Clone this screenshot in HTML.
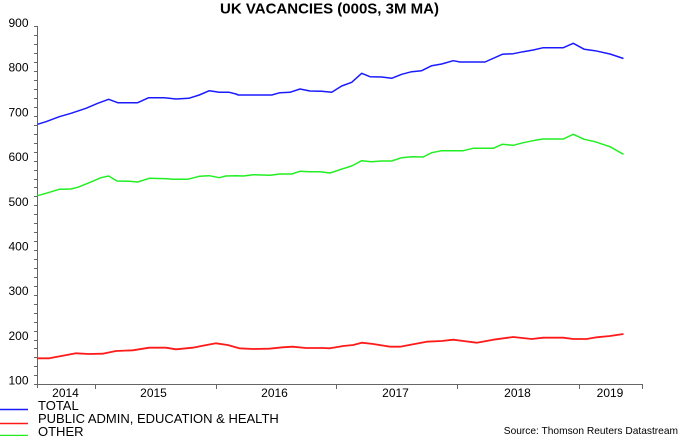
<!DOCTYPE html>
<html>
<head>
<meta charset="utf-8">
<style>
  html, body { margin: 0; padding: 0; background: #fff; }
  body { width: 680px; height: 436px; overflow: hidden; }
  svg { display: block; }
  text { font-family: "Liberation Sans", Arial, sans-serif; fill: #000; }
</style>
</head>
<body>
<svg width="680" height="436" viewBox="0 0 680 436" xmlns="http://www.w3.org/2000/svg">
  <rect width="680" height="436" fill="#fff"/>
  <!-- Title -->
  <text x="329.5" y="13.5" font-size="15" font-weight="bold" text-anchor="middle">UK VACANCIES (000S, 3M MA)</text>

  <!-- Y axis -->
  <g stroke="#666" stroke-width="1" fill="none" shape-rendering="crispEdges">
    <line x1="37.5" y1="26" x2="37.5" y2="388"/>
    <line x1="37" y1="384.5" x2="643" y2="384.5"/>
    <!-- minor ticks every 20 units: 8.95px -->
    <path d="M34 26.5H38 M34 35.5H38 M34 44.5H38 M34 53.5H38 M34 62.5H38 M34 71.5H38 M34 80.5H38 M34 89.5H38 M34 98.5H38 M34 107.5H38 M34 116.5H38 M34 125.5H38 M34 134.5H38 M34 143.5H38 M34 152.5H38 M34 161.5H38 M34 170.5H38 M34 179.5H38 M34 187.5H38 M34 196.5H38 M34 205.5H38 M34 214.5H38 M34 223.5H38 M34 232.5H38 M34 241.5H38 M34 250.5H38 M34 259.5H38 M34 268.5H38 M34 277.5H38 M34 286.5H38 M34 295.5H38 M34 304.5H38 M34 313.5H38 M34 322.5H38 M34 331.5H38 M34 340.5H38 M34 348.5H38 M34 357.5H38 M34 366.5H38 M34 375.5H38 M34 384.5H38"/>
    <!-- x ticks -->
    <path d="M95.5 384V389 M216.5 384V389 M336.5 384V389 M457.5 384V389 M579.5 384V389 M642.5 384V389"/>
  </g>

  <!-- Y labels -->
  <g font-size="12" text-anchor="end">
    <text x="28.5" y="27">900</text>
    <text x="28.5" y="71.5">800</text>
    <text x="28.5" y="116.5">700</text>
    <text x="28.5" y="161">600</text>
    <text x="28.5" y="206">500</text>
    <text x="28.5" y="250.5">400</text>
    <text x="28.5" y="295">300</text>
    <text x="28.5" y="340">200</text>
    <text x="28.5" y="384.5">100</text>
  </g>

  <!-- X labels -->
  <g font-size="12" text-anchor="middle">
    <text x="65.5" y="397">2014</text>
    <text x="153.5" y="397">2015</text>
    <text x="274.5" y="397">2016</text>
    <text x="395.5" y="397">2017</text>
    <text x="517.5" y="397">2018</text>
    <text x="610" y="397">2019</text>
  </g>

  <!-- TOTAL (blue) -->
  <polyline fill="none" stroke="#1a1aff" stroke-width="1.5" stroke-linejoin="round"
    points="37.5,124.3 46,121.7 59.3,116.7 71,113.3 86,108.3 97.7,103.3 108.7,99.3 117.7,102.7 137.7,102.7 148.7,97.7 164.3,97.7 176,99 188.7,98.3 199.3,95 209.3,90.7 219.3,92.3 229.3,92.3 236,94 238.3,95 271.7,95 280,92.7 290,92.3 300,89 310,91 321.7,91.3 331.7,92.3 341.7,86 351.7,82.3 361.7,73.3 370,76.7 381.7,77 391.7,78.3 401.7,74.3 411.7,71.7 421.7,70.7 431.7,65.7 441.7,64 453.3,60.7 460,62 485,62 502.3,54.3 513.3,53.7 523.3,51.7 533.3,50 543.3,47.7 563.3,47.7 573.3,43.3 584.3,49.3 595,50.7 610,54 623.5,58.5"/>

  <!-- OTHER (green) -->
  <polyline fill="none" stroke="#22ee22" stroke-width="1.5" stroke-linejoin="round"
    points="37.5,195.7 46,193.3 59.3,189.3 71,189 77.7,187.3 89.3,182.7 101,177.7 108.7,176 117,181 129.3,181.3 137.7,182 149.3,178.3 167.7,178.7 172.7,179.3 187.7,179.3 199.3,176.3 209.3,175.7 219.3,177.7 226,176 236,175.7 243.3,176 253.3,174.7 270,175.3 280,174 291.7,174 300,171.3 310,171.7 320,171.7 330,173 340,169.7 351.7,166 361.7,160.7 371.7,161.7 381.7,161 391.7,161 401.7,157.7 411.7,156.7 423.3,157 431.7,152.7 441.7,150.7 463.3,150.7 473.3,148.3 493.3,148.3 502.3,144.3 513.3,145.3 523.3,142.7 535,140.3 543.3,139 563.3,139 573.3,134.3 584.3,139.3 595,141.7 610,146.7 623.5,154.3"/>

  <!-- PUBLIC ADMIN (red) -->
  <polyline fill="none" stroke="#ff1a1a" stroke-width="1.8" stroke-linejoin="round"
    points="37.5,358.3 49.3,358.3 62.7,355.7 76,353.3 89.3,354 102.7,353.7 116,351 132.7,350.3 149.3,347.7 166,347.7 176,349.3 192.7,347.7 202.7,345.7 216,343.3 227.7,345 239.3,348.3 252.7,349 269.3,348.7 282.7,347.3 292.7,346.7 306,348 322.7,348 330,348.3 343.3,346 353.3,345 361.7,342.7 373.3,344 390,346.7 400,346.7 413.3,344.3 426.7,341.7 441.7,341 453.3,339.7 463.3,341 476.7,342.7 493.3,339.7 513.3,337 531.7,339 543.3,337.7 563.3,337.7 573.3,339 586.7,339 596.7,337.3 610,336 623.5,334"/>

  <!-- Legend -->
  <g stroke-width="1.5">
    <line x1="0" y1="409.5" x2="28" y2="409.5" stroke="#1a1aff"/>
    <line x1="0" y1="423.5" x2="28" y2="423.5" stroke="#ff1a1a"/>
    <line x1="0" y1="435.5" x2="28" y2="435.5" stroke="#22ee22"/>
  </g>
  <g font-size="13">
    <text x="38" y="410">TOTAL</text>
    <text x="38" y="423">PUBLIC ADMIN, EDUCATION &amp; HEALTH</text>
    <text x="38" y="436">OTHER</text>
  </g>

  <!-- Source -->
  <text x="678" y="434" font-size="10.2" text-anchor="end">Source: Thomson Reuters Datastream</text>
</svg>
</body>
</html>
